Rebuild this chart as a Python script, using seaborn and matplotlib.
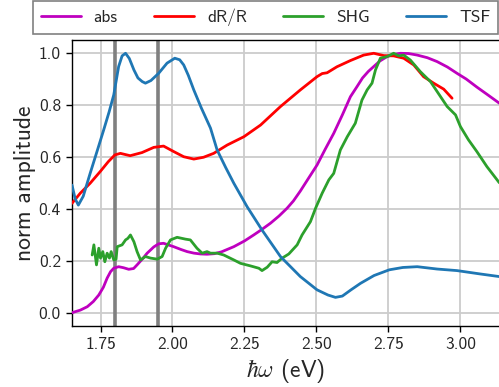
import numpy as np
import pandas as pd
import matplotlib
matplotlib.use("Agg")
import matplotlib.pyplot as plt
import seaborn as sns

# ---- data ----
tsf_x = [1.651, 1.662, 1.673, 1.690, 1.714, 1.740, 1.761, 1.780, 1.796, 1.813, 1.825, 1.837, 1.850,
         1.866, 1.880, 1.895, 1.906, 1.925, 1.952, 1.981, 2.008, 2.025, 2.039, 2.055, 2.074, 2.100,
         2.132, 2.155, 2.185, 2.213, 2.259, 2.311, 2.375, 2.444, 2.502, 2.540, 2.566, 2.590, 2.620,
         2.653, 2.700, 2.753, 2.800, 2.850, 2.919, 2.988, 3.069, 3.135]
tsf_y = [0.493, 0.440, 0.416, 0.450, 0.538, 0.630, 0.705, 0.775, 0.840, 0.949, 0.990, 1.000, 0.980,
         0.936, 0.905, 0.891, 0.885, 0.895, 0.923, 0.962, 0.981, 0.975, 0.955, 0.915, 0.859, 0.790,
         0.712, 0.628, 0.560, 0.500, 0.410, 0.320, 0.218, 0.141, 0.090, 0.070, 0.061, 0.066, 0.090,
         0.115, 0.145, 0.167, 0.176, 0.179, 0.170, 0.164, 0.151, 0.141]

drr_x = [1.651, 1.680, 1.714, 1.749, 1.777, 1.800, 1.819, 1.853, 1.894, 1.935, 1.969, 2.004, 2.039,
         2.074, 2.108, 2.143, 2.190, 2.248, 2.306, 2.375, 2.444, 2.502, 2.520, 2.537, 2.571, 2.618,
         2.664, 2.699, 2.734, 2.768, 2.803, 2.838, 2.872, 2.907, 2.942, 2.971]
drr_y = [0.423, 0.462, 0.500, 0.545, 0.583, 0.609, 0.615, 0.606, 0.618, 0.638, 0.643, 0.622, 0.602,
         0.593, 0.600, 0.615, 0.647, 0.679, 0.724, 0.795, 0.859, 0.910, 0.922, 0.925, 0.948, 0.972,
         0.993, 1.000, 0.991, 0.990, 0.981, 0.955, 0.910, 0.885, 0.862, 0.827]

abs_x = [1.651, 1.680, 1.704, 1.725, 1.744, 1.760, 1.773, 1.785, 1.796, 1.813, 1.830, 1.848, 1.865,
         1.877, 1.895, 1.912, 1.935, 1.952, 1.969, 1.985, 2.004, 2.030, 2.051, 2.075, 2.097, 2.120,
         2.145, 2.170, 2.213, 2.250, 2.282, 2.310, 2.340, 2.370, 2.398, 2.420, 2.444, 2.470, 2.502,
         2.530, 2.560, 2.590, 2.618, 2.641, 2.660, 2.680, 2.699, 2.720, 2.745, 2.770, 2.792, 2.820,
         2.850, 2.885, 2.919, 2.955, 2.988, 3.020, 3.057, 3.095, 3.135]
abs_y = [0.002, 0.012, 0.025, 0.045, 0.070, 0.100, 0.135, 0.160, 0.173, 0.179, 0.175, 0.169, 0.172,
         0.186, 0.208, 0.231, 0.255, 0.267, 0.269, 0.263, 0.256, 0.245, 0.237, 0.231, 0.228, 0.227,
         0.229, 0.236, 0.256, 0.278, 0.301, 0.322, 0.346, 0.374, 0.404, 0.432, 0.470, 0.515, 0.570,
         0.630, 0.692, 0.763, 0.833, 0.872, 0.905, 0.930, 0.949, 0.970, 0.987, 0.996, 1.000, 0.999,
         0.993, 0.983, 0.968, 0.947, 0.923, 0.901, 0.870, 0.840, 0.808]

shg_x = [1.721, 1.727, 1.736, 1.744, 1.750, 1.758, 1.765, 1.773, 1.781, 1.787, 1.796, 1.804, 1.808,
         1.825, 1.837, 1.845, 1.854, 1.866, 1.877, 1.889, 1.906, 1.924, 1.947, 1.964, 1.976, 1.993,
         2.016, 2.045, 2.062, 2.085, 2.103, 2.120, 2.132, 2.155, 2.178, 2.213, 2.236, 2.271, 2.300,
         2.311, 2.329, 2.346, 2.363, 2.381, 2.404, 2.433, 2.450, 2.479, 2.497, 2.520, 2.543, 2.560,
         2.583, 2.607, 2.635, 2.658, 2.676, 2.693, 2.705, 2.722, 2.745, 2.768, 2.786, 2.803, 2.826,
         2.861, 2.896, 2.931, 2.954, 2.983, 3.000, 3.028, 3.057, 3.092, 3.135]
shg_y = [0.224, 0.263, 0.186, 0.250, 0.212, 0.237, 0.198, 0.231, 0.212, 0.237, 0.205, 0.208, 0.256,
         0.263, 0.282, 0.288, 0.301, 0.275, 0.237, 0.205, 0.218, 0.212, 0.208, 0.218, 0.250, 0.282,
         0.292, 0.285, 0.282, 0.250, 0.231, 0.237, 0.231, 0.231, 0.224, 0.205, 0.192, 0.182, 0.173,
         0.164, 0.177, 0.198, 0.195, 0.212, 0.228, 0.263, 0.301, 0.352, 0.404, 0.462, 0.513, 0.538,
         0.628, 0.679, 0.731, 0.820, 0.859, 0.885, 0.936, 0.981, 0.987, 1.000, 0.990, 0.993, 0.974,
         0.929, 0.891, 0.833, 0.795, 0.763, 0.718, 0.667, 0.622, 0.564, 0.502]

marker_lines = [1.80, 1.95]
x_ticks = [1.75, 2.00, 2.25, 2.50, 2.75, 3.00]
y_ticks = [0.0, 0.2, 0.4, 0.6, 0.8, 1.0]

series = [("abs", abs_x, abs_y, "#bf00bf"),
          ("dR/R", drr_x, drr_y, "#ff0000"),
          ("SHG", shg_x, shg_y, "#2ca02c"),
          ("TSF", tsf_x, tsf_y, "#1f77b4")]

sns.set_style("whitegrid", {
    "axes.edgecolor": "black",
    "grid.color": "#cccccc",
    "xtick.bottom": True,
    "ytick.left": True,
    "axes.spines.right": False,
})
plt.rcParams["font.family"] = ["cmss10", "DejaVu Sans"]
plt.rcParams["mathtext.fontset"] = "cm"
plt.rcParams["axes.unicode_minus"] = False

fig = plt.figure(figsize=(4.99, 3.87), dpi=100)
ax = fig.add_axes([0.1443, 0.1584, 0.8557, 0.7382])

for xv in marker_lines:
    ax.axvline(xv, color="#808080", lw=2.6, zorder=1)

for name, xs, ys, col in series:
    df = pd.DataFrame({"x": xs, "y": ys})
    sns.lineplot(data=df, x="x", y="y", ax=ax, color=col, lw=2, label=name,
                 sort=False, zorder=3)

ax.set_xlim(1.651, 3.134)
ax.set_ylim(-0.048, 1.051)
ax.set_xticks(x_ticks)
ax.set_xticklabels([f"{v:.2f}" for v in x_ticks])
ax.set_yticks(y_ticks)
ax.set_yticklabels([f"{v:.1f}" for v in y_ticks])
ax.tick_params(axis="both", labelsize=12.5, length=4, width=1, color="black", pad=4)
ax.grid(True, lw=1.3, color="#cccccc")
for s in ax.spines.values():
    s.set_linewidth(1.0)
    s.set_color("black")

ax.set_xlabel(r"$\hbar\omega$ (eV)", fontsize=17, labelpad=4)
ax.set_ylabel("norm amplitude", fontsize=17, labelpad=2)

handles, labels = ax.get_legend_handles_labels()
ax.get_legend().remove()
leg = fig.legend(handles, labels, loc="lower left", ncol=4,
                 bbox_to_anchor=(0.066, 0.912), borderaxespad=0.0,
                 fontsize=12.5, handlelength=2.3, handletextpad=0.75,
                 columnspacing=2.1, fancybox=False,
                 framealpha=1.0, edgecolor="#808080", borderpad=0.45)
leg.get_frame().set_linewidth(1.2)

fig.savefig("out.png", dpi=100)
